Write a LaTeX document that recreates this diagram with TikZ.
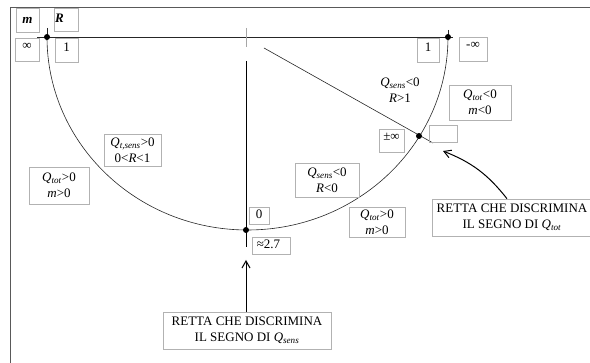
\documentclass[tikz,border=0pt]{standalone}
\usepackage{fontspec}
\setmainfont{Liberation Serif}
\usetikzlibrary{arrows.meta}
\newcommand\Qsub[2]{\textit{#1}\textsubscript{\textit{#2}}}
\begin{document}
\begin{tikzpicture}[x=1pt,y=-1pt,
  lbl/.style={draw=gray!60, line width=.6pt, inner sep=0pt,
    font=\fontsize{13}{16}\selectfont, align=center},
  plain/.style={inner sep=0pt, font=\fontsize{13}{16}\selectfont, align=center},
  tline/.style 2 args={text height=#1pt, text depth=#2pt},
  blackdot/.style={circle, fill=black, inner sep=0pt, minimum size=6pt},
  fine/.style={line width=.6pt, black!85},
  frame/.style={line width=1pt, black!65},
  pointer/.style={line width=1pt, black, -{Straight Barb[length=7pt,width=8pt]}},
]
\useasboundingbox (0,0) rectangle (590,363);
\clip (0,0) rectangle (590,363);

% frame
\coordinate (f1) at (10,363);
\coordinate (f2) at (10,8);
\coordinate (f3) at (590,8);
\draw[frame] (f1) -- (f2) -- (f3);

% axis line and ticks
\coordinate (hl) at (37,37);
\coordinate (hr) at (453,37);
\draw[fine] (hl) -- (hr);
\coordinate (L) at (47,37);
\coordinate (R) at (448,37);
\coordinate (tl) at (47,28);
\coordinate (tr) at (448,30);
\draw[fine] (tl) -- (L);
\draw[fine] (tr) -- (R);

% half ellipse
\draw[fine] (L) arc[start angle=180, end angle=360, x radius=200.5pt, y radius=193pt];

% central tick and vertical line
\coordinate (ct1) at (246,28);
\coordinate (ct2) at (246,47);
\draw[line width=1pt, gray!70] (ct1) -- (ct2);
\coordinate (v1) at (246,61);
\coordinate (v2) at (246,247);
\draw[line width=1pt, black] (v1) -- (v2);

% diagonal line
\coordinate (d1) at (264,48);
\coordinate (d2) at (433,143);
\draw[fine] (d1) -- (d2);

% dots
\node[blackdot] (dL) at (L) {};
\node[blackdot] (dR) at (R) {};
\node[blackdot] (dB) at (246,230) {};
\node[blackdot] (dD) at (419,136) {};

% small boxes
\node[lbl, minimum width=23pt, tline={16}{8}] (bm) at (27.5,20) {\textbf{\textit{m}}};
\node[lbl, minimum width=24pt, tline={15}{8}] (bR) at (66,19.5) {\textbf{\textit{R}}\hspace{13pt}};
\node[lbl, minimum width=24pt, tline={11.5}{11.5}] (binf) at (27,49.5) {∞};
\node[lbl, minimum width=23pt, tline={14}{10}] (b1l) at (66.5,50) {1};
\node[lbl, minimum width=22pt, tline={14}{10}] (b1r) at (428,50) {1};
\node[lbl, minimum width=28pt, tline={12}{12}] (bminf) at (473,49) {-∞};
\node[lbl, minimum width=25pt, tline={12}{11}] (bpm) at (391.5,140.5) {±∞};
\node[lbl, minimum width=28pt, minimum height=17pt] (bempty) at (443,133.5) {};
\node[lbl, minimum width=20pt, tline={12}{5}] (b0) at (259,215.5) {0};
\node[lbl, minimum width=38pt, tline={12}{5}] (be) at (271,245.5) {≈2.7\hspace{5pt}};

% region boxes
\node[lbl, minimum width=62pt, minimum height=35pt] (qtotneg) at (480,102.5) {\Qsub{Q}{tot}<0\\\textit{m}<0};
\node[lbl, minimum width=57pt, minimum height=32pt] (qtsens) at (132.5,150) {\Qsub{Q}{t,sens}>0\\0<\textit{R}<1};
\node[lbl, minimum width=60pt, minimum height=37pt] (qtotl) at (59,185.5) {\Qsub{Q}{tot}>0\\\textit{m}>0};
\node[lbl, minimum width=64pt, minimum height=34pt] (qsensneg) at (327,180) {\Qsub{Q}{sens}<0\\\textit{R}<0};
\node[lbl, minimum width=56pt, minimum height=30pt] (qtotr) at (377,222) {\Qsub{Q}{tot}>0\\\textit{m}>0};
\node[plain] (qsensr) at (400,90) {\Qsub{Q}{sens}<0\\\textit{R}>1};

% callouts
\node[lbl, minimum width=168pt, minimum height=37pt] (rsens) at (247,330.5) {RETTA CHE DISCRIMINA\\IL SEGNO DI \Qsub{Q}{sens}};
\node[lbl, minimum width=160pt, minimum height=37pt] (rtot) at (512,217.5) {RETTA CHE DISCRIMINA\\IL SEGNO DI \Qsub{Q}{tot}};

\coordinate (tipS) at (246,260);
\coordinate (tipT) at (443,151);
\draw[pointer] (rsens.north -| tipS) -- (tipS);
\draw[pointer] ([xshift=-5pt]rtot.north) to[bend right=15] (tipT);
\end{tikzpicture}
\end{document}
